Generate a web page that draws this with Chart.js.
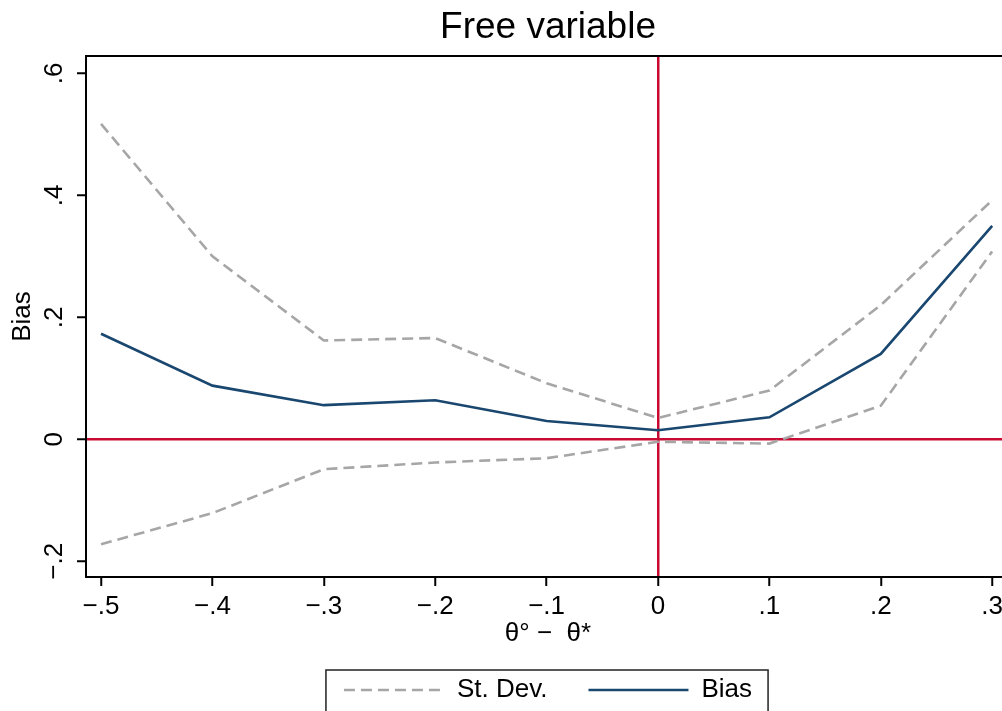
<!DOCTYPE html>
<html>
<head>
<meta charset="utf-8">
<title>Free variable</title>
<script src="https://cdn.jsdelivr.net/npm/chart.js@4/dist/chart.umd.min.js"></script>
<style>
    body { margin: 0; background: #fff; overflow: hidden; }
    #wrap { width: 1095px; height: 711px; }
</style>
</head>
<body>
<div id="wrap"><canvas id="chart" width="1095" height="711"></canvas></div>
<script>
// Values
const xValues = [-0.5, -0.4, -0.3, -0.2, -0.1, 0, 0.1, 0.2, 0.3];
const bias = [0.173, 0.088, 0.056, 0.064, 0.030, 0.015, 0.036, 0.140, 0.350];
const sdUpper = [0.517, 0.300, 0.162, 0.166, 0.092, 0.035, 0.080, 0.220, 0.392];
const sdLower = [-0.172, -0.121, -0.049, -0.038, -0.031, -0.004, -0.007, 0.055, 0.308];

// Axis ticks (Stata style labels)
const xTicks = [-0.5, -0.4, -0.3, -0.2, -0.1, 0, 0.1, 0.2, 0.3];
const xTickLabels = ['\u2212.5', '\u2212.4', '\u2212.3', '\u2212.2', '\u2212.1', '0', '.1', '.2', '.3'];
const yTicks = [-0.2, 0, 0.2, 0.4, 0.6];
const yTickLabels = ['\u2212.2', '0', '.2', '.4', '.6'];

const NAVY = '#1a476f';
const GRAY = '#a6a6a6';
const RED = 'rgb(200,10,50)';
const FONT = "'Liberation Sans', Arial, sans-serif";

Chart.defaults.font.family = FONT;
Chart.defaults.color = '#000';

const toPoints = (ys) => xValues.map((x, i) => ({ x, y: ys[i] }));

// Red reference lines at zero via grid colour
const zeroLine = (ctx) => (ctx.tick && ctx.tick.value === 0 ? RED : 'rgba(0,0,0,0)');

// Keep dashes in the legend samples (point style drops them)
function legendLabels(chart) {
    const items = Chart.defaults.plugins.legend.labels.generateLabels(chart);
    return items
        .filter(item => item.datasetIndex !== 2)
        .map(item => {
            const ds = chart.data.datasets[item.datasetIndex];
            item.lineDash = ds.borderDash || [];
            item.lineWidth = ds.borderWidth;
            item.strokeStyle = ds.borderColor;
            item.pointStyle = 'line';
            return item;
        });
}

// Frame, rotated y labels and legend box
const stataExtras = {
    id: 'stataExtras',
    afterDraw(chart) {
        const { ctx, chartArea } = chart;
        const yScale = chart.scales.y;

        ctx.save();
        ctx.strokeStyle = '#000';
        ctx.lineWidth = 2;
        ctx.strokeRect(chartArea.left, chartArea.top, chartArea.right - chartArea.left, chartArea.bottom - chartArea.top);

        ctx.fillStyle = '#000';
        ctx.font = '26px ' + FONT;
        ctx.textAlign = 'center';
        ctx.textBaseline = 'alphabetic';
        yTicks.forEach((v, i) => {
            const py = yScale.getPixelForValue(v);
            ctx.save();
            ctx.translate(chartArea.left - 24, py);
            ctx.rotate(-Math.PI / 2);
            ctx.fillText(yTickLabels[i], 0, 0);
            ctx.restore();
        });

        const boxes = chart.legend.legendHitBoxes;
        if (boxes && boxes.length) {
            const left = Math.min(...boxes.map(b => b.left)) - 18;
            const right = Math.max(...boxes.map(b => b.left + b.width)) + 16;
            const mid = boxes[0].top + boxes[0].height / 2;
            ctx.strokeStyle = '#222';
            ctx.lineWidth = 1.5;
            ctx.strokeRect(left, mid - 20, right - left, 43);
        }
        ctx.restore();
    }
};

const lineStyle = { pointRadius: 0, pointStyle: 'line', tension: 0, borderWidth: 2.6 };

new Chart(document.getElementById('chart'), {
    type: 'line',
    data: {
        datasets: [
            { ...lineStyle, label: 'St. Dev.', data: toPoints(sdUpper), borderColor: GRAY, backgroundColor: GRAY, borderDash: [11, 6] },
            { ...lineStyle, label: 'Bias', data: toPoints(bias), borderColor: NAVY, backgroundColor: NAVY },
            { ...lineStyle, label: 'St. Dev. (lower)', data: toPoints(sdLower), borderColor: GRAY, backgroundColor: GRAY, borderDash: [11, 6] },
        ],
    },
    options: {
        responsive: false,
        animation: false,
        layout: { padding: { left: 0, right: 85, top: 0, bottom: 0 } },
        plugins: {
            title: {
                display: true,
                fullSize: false,
                text: 'Free variable',
                color: '#000',
                font: { size: 37, weight: 'normal' },
                padding: { top: 6, bottom: 5.6 },
            },
            legend: {
                display: true,
                position: 'bottom',
                fullSize: false,
                maxHeight: 75,
                labels: {
                    usePointStyle: true,
                    pointStyle: 'line',
                    pointStyleWidth: 100,
                    padding: 41,
                    color: '#000',
                    font: { size: 26 },
                    generateLabels: legendLabels,
                },
            },
            tooltip: { enabled: false },
        },
        scales: {
            x: {
                type: 'linear',
                z: 1,
                min: -0.5135,
                max: 0.316,
                afterBuildTicks: (scale) => { scale.ticks = xTicks.map(value => ({ value })); },
                afterFit: (scale) => { scale.height = 59; },
                ticks: {
                    autoSkip: false,
                    maxRotation: 0,
                    padding: 5,
                    font: { size: 26 },
                    callback: (value, index) => xTickLabels[index],
                },
                grid: {
                    color: zeroLine,
                    lineWidth: 2.5,
                    tickColor: '#000',
                    tickWidth: 2,
                    tickLength: 9,
                },
                border: { display: false },
                title: {
                    display: true,
                    text: '\u03b8\u00b0 \u2212  \u03b8*',
                    font: { size: 26 },
                    padding: { top: 0, bottom: -13 },
                },
            },
            y: {
                type: 'linear',
                z: 1,
                min: -0.2257,
                max: 0.6284,
                afterBuildTicks: (scale) => { scale.ticks = yTicks.map(value => ({ value })); },
                afterFit: (scale) => { scale.width = 86; },
                ticks: { display: false },
                grid: {
                    color: zeroLine,
                    lineWidth: 2.5,
                    tickColor: '#000',
                    tickWidth: 2,
                    tickLength: 9,
                },
                border: { display: false },
                title: {
                    display: true,
                    text: 'Bias',
                    font: { size: 26 },
                    padding: { top: 7, bottom: 0 },
                },
            },
        },
    },
    plugins: [stataExtras],
});
</script>
</body>
</html>
